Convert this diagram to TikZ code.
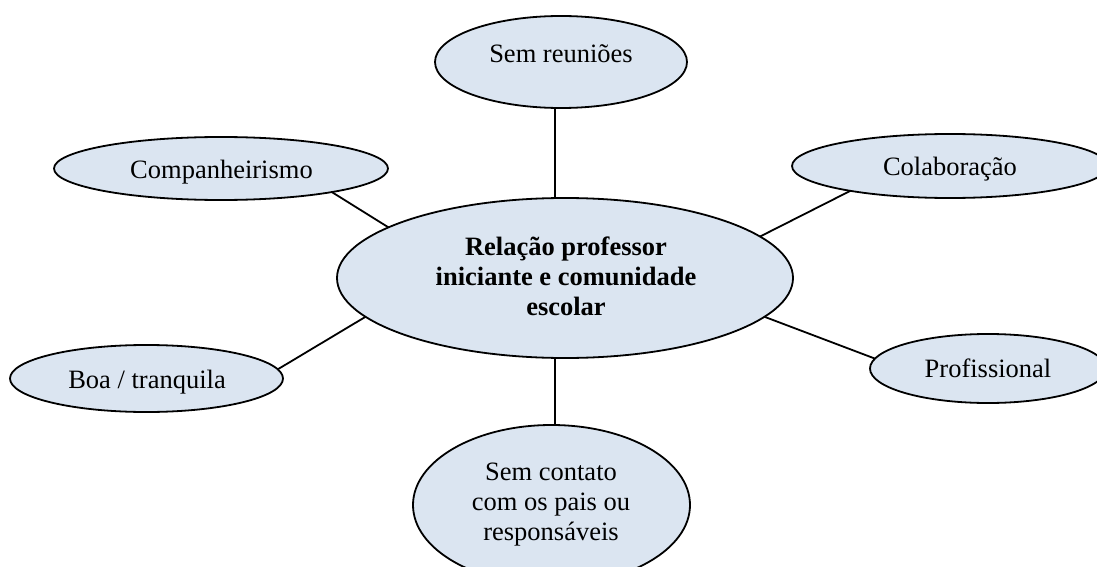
\documentclass[tikz,border=0pt]{standalone}
\usepackage{fontspec}
\setmainfont{Liberation Serif}
\usetikzlibrary{shapes.geometric}
\definecolor{bubblefill}{HTML}{DBE5F1}
\tikzset{
  bubble/.style={ellipse, draw=black, line width=1.8pt, fill=bubblefill, inner sep=0pt, outer sep=0pt},
  lbl/.style={font=\fontsize{26.5}{30}\selectfont, inner sep=0pt, align=center},
  link/.style={draw=black, line width=1.8pt}
}
\begin{document}
\begin{tikzpicture}[x=1pt,y=-1pt]
\useasboundingbox (0,0) rectangle (1097,567);
\clip (0,0) rectangle (1097,567);
% bubbles
\node[bubble, minimum width=252pt, minimum height=92pt] (top) at (561,62) {};
\node[bubble, minimum width=456pt, minimum height=160pt] (ctr) at (565,278) {};
\node[bubble, minimum width=334pt, minimum height=63pt] (comp) at (221,168.5) {};
\node[bubble, minimum width=273pt, minimum height=67pt] (boa) at (146.5,378.5) {};
\node[bubble, minimum width=316pt, minimum height=64pt] (colab) at (950,166) {};
\node[bubble, minimum width=236pt, minimum height=69pt] (prof) at (988,368.5) {};
\node[bubble, minimum width=277pt, minimum height=160pt] (bot) at (551.5,505) {};
% texts
\node[lbl, anchor=base] (ttop) at (561,63) {Sem reuniões};
\node[lbl, font=\fontsize{26.5}{30}\selectfont\bfseries] (tctr) at (566,276) {Relação professor\\iniciante e comunidade\\escolar};
\node[lbl, anchor=base] (tcomp) at (221.5,178) {Companheirismo};
\node[lbl, anchor=base] (tboa) at (147,388) {Boa / tranquila};
\node[lbl, anchor=base] (tcolab) at (950,175) {Colaboração};
\node[lbl, anchor=base] (tprof) at (988,377) {Profissional};
\node[lbl] (tbot) at (551,505) {Sem contato\\com os pais ou\\responsáveis};
% connectors
\draw[link] (top.-97.2) -- (top.-97.2 |- ctr.north);
\draw[link] (comp.-12.4) -- (ctr.164.5);
\draw[link] (colab.194.6) -- (ctr.12.6);
\draw[link] (boa.4.4) -- (ctr.191);
\draw[link] (prof.175.3) -- (ctr.-11.8);
\draw[link] (ctr.-97.1) -- (ctr.-97.1 |- bot.north);
\end{tikzpicture}
\end{document}
